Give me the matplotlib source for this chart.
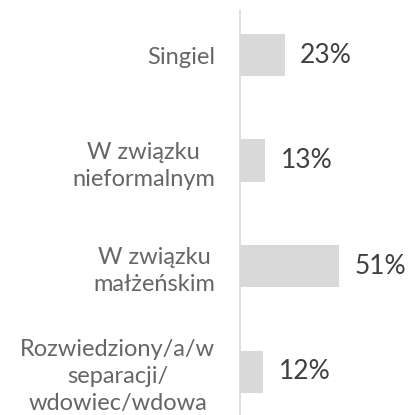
import matplotlib
matplotlib.use('Agg')
import numpy as np
import matplotlib.pyplot as plt

plt.rcParams['font.family'] = ['Lato', 'DejaVu Sans']

categories = ["Singiel", "W związku\nnieformalnym", "W związku\nmałżeńskim",
              "Rozwiedziony/a/w\nseparacji/\nwdowiec/wdowa"]
values = [23, 13, 51, 12]
value_labels = ["23%", "13%", "51%", "12%"]

fig = plt.figure(figsize=(4.09, 4.15), dpi=100)
ax = fig.add_axes([0.587, 0.0, 0.413, 0.976])

y_pos = np.arange(len(categories))
ax.barh(y_pos, values, height=0.4, color='#d9d9d9')

for y, v, lab in zip(y_pos, values, value_labels):
    ax.annotate(lab, (v, y), xytext=(11, 0), textcoords='offset points',
                ha='left', va='center', fontsize=19, color='#404040')

ax.set_ylim(3.41, -0.427)
ax.set_xlim(0, 87)
ax.set_yticks(y_pos)
ax.set_yticklabels(categories, fontsize=17, color='#666666', linespacing=1.35)
for lbl in ax.get_yticklabels():
    lbl.set_multialignment('center')
ax.tick_params(axis='y', length=0, pad=18)
ax.set_xticks([])

for s in ['top', 'right', 'bottom']:
    ax.spines[s].set_visible(False)
ax.spines['left'].set_color('#d9d9d9')
ax.spines['left'].set_linewidth(1.2)

plt.savefig('out.png', dpi=100)
